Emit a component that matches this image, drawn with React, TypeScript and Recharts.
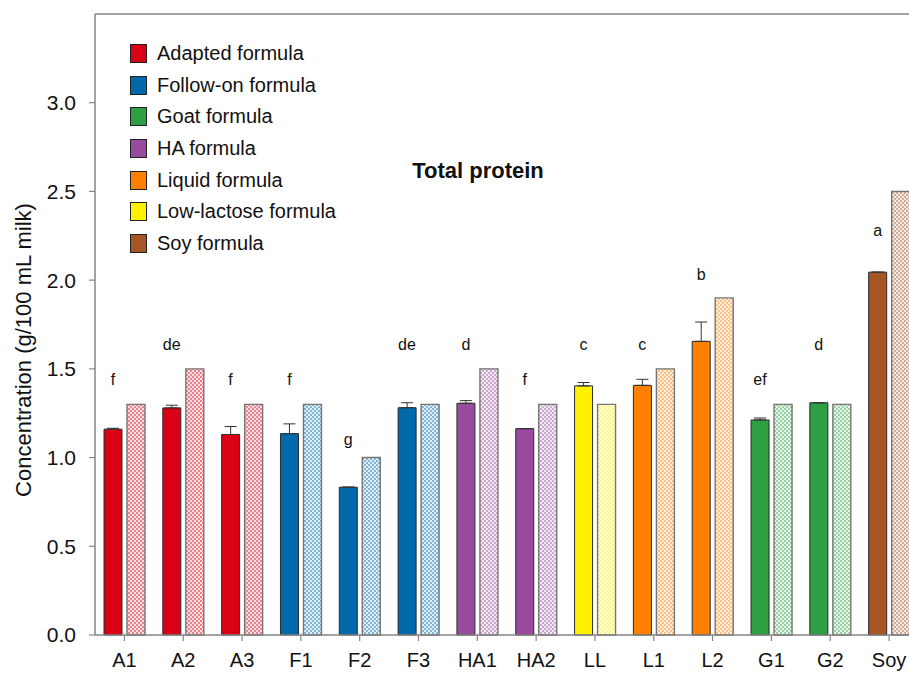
import React from 'react';
import {
  ComposedChart,
  Bar,
  Scatter,
  XAxis,
  YAxis,
  Cell,
  ErrorBar,
  ReferenceLine,
  Legend,
  Customized,
} from 'recharts';

// Products on the x axis
const categories = ['A1', 'A2', 'A3', 'F1', 'F2', 'F3', 'HA1', 'HA2', 'LL', 'L1', 'L2', 'G1', 'G2', 'Soy'];
// Measured total protein (g/100 mL milk) and its standard deviation
const measured = [1.16, 1.28, 1.13, 1.135, 0.833, 1.281, 1.306, 1.163, 1.404, 1.407, 1.655, 1.212, 1.309, 2.045];
const measuredSD = [0.005, 0.015, 0.045, 0.055, 0, 0.028, 0.015, 0, 0.019, 0.034, 0.109, 0.011, 0, 0];
// Value declared on the label
const declared = [1.3, 1.5, 1.3, 1.3, 1.0, 1.3, 1.5, 1.3, 1.3, 1.5, 1.9, 1.3, 1.3, 2.5];
// Significance letters and the level (g/100 mL) at which each one is written
const letters = ['f', 'de', 'f', 'f', 'g', 'de', 'd', 'f', 'c', 'c', 'b', 'ef', 'd', 'a'];
const letterLevel = [1.44, 1.64, 1.44, 1.44, 1.1, 1.64, 1.64, 1.44, 1.64, 1.64, 2.03, 1.44, 1.64, 2.28];
// Formula type of each product (index into formulaTypes)
const categoryType = [0, 0, 0, 1, 1, 1, 3, 3, 5, 4, 4, 2, 2, 6];
const formulaTypes = [
  'Adapted formula',
  'Follow-on formula',
  'Goat formula',
  'HA formula',
  'Liquid formula',
  'Low-lactose formula',
  'Soy formula',
];
const typeColors = ['#DA0016', '#0069AC', '#2E9F43', '#984B9C', '#FF7F00', '#FFF100', '#A65527'];
const yTicks = [0, 0.5, 1.0, 1.5, 2.0, 2.5, 3.0];

const rows = categories.map((name, i) => ({
  name,
  measured: measured[i],
  sdRange: [0, measuredSD[i]],
  declared: declared[i],
  letter: letters[i],
  letterLevel: letterLevel[i],
  type: categoryType[i],
}));

const FONT = '"Liberation Sans", Arial, Helvetica, sans-serif';
const AXIS = '#858585';
const BAR_SIZE = 18;
const BAR_GAP = 5;

const LegendBox = () => (
  <div style={{ fontFamily: FONT, fontSize: 20, color: '#111' }}>
    {formulaTypes.map((label, i) => (
      <div key={label} style={{ display: 'flex', alignItems: 'center', height: 31.6 }}>
        <div
          style={{
            width: 15,
            height: 17,
            background: typeColors[i],
            border: '1px solid #222',
            marginRight: 10,
          }}
        />
        <span style={{ whiteSpace: 'nowrap' }}>{label}</span>
      </div>
    ))}
  </div>
);

const Overlay = () => (
  <g fontFamily={FONT} fill="#111">
    <text x={478} y={170} textAnchor="middle" dominantBaseline="central" fontSize={22} fontWeight="bold">
      Total protein
    </text>
    <text
      x={23}
      y={350}
      transform="rotate(-90 23 350)"
      textAnchor="middle"
      dominantBaseline="central"
      fontSize={22}
    >
      Concentration (g/100 mL milk)
    </text>
  </g>
);

const LetterMark = (props: any) => {
  const { cx, cy, payload } = props;
  if (cx == null || cy == null) return null;
  return (
    <text
      x={cx - (BAR_SIZE + BAR_GAP) / 2}
      y={cy}
      textAnchor="middle"
      dominantBaseline="central"
      fontFamily={FONT}
      fontSize={16}
      fill="#111"
    >
      {payload.letter}
    </text>
  );
};

export default function App() {
  return (
    <div style={{ position: 'absolute', left: 0, top: 0, width: 909, height: 673, overflow: 'hidden', background: '#fff' }}>
      <ComposedChart
        width={930}
        height={673}
        data={rows}
        margin={{ top: 14, right: 11.5, bottom: 0, left: 0 }}
        barSize={BAR_SIZE}
        barGap={BAR_GAP}
      >
        <defs>
          {typeColors.map((c, i) => (
            <pattern key={i} id={`dots-${i}`} width={4} height={4} patternUnits="userSpaceOnUse">
              <rect width={4} height={4} fill="#fff" />
              <rect width={4} height={4} fill={c} fillOpacity={0.12} />
              <rect x={0} y={0} width={2} height={2} fill={c} fillOpacity={0.42} />
              <rect x={2} y={2} width={2} height={2} fill={c} fillOpacity={0.42} />
            </pattern>
          ))}
        </defs>
        <XAxis
          dataKey="name"
          height={38}
          tickSize={6}
          tickMargin={12}
          interval={0}
          axisLine={{ stroke: AXIS, strokeWidth: 1.5 }}
          tickLine={{ stroke: AXIS, strokeWidth: 1.2 }}
          tick={{ fill: '#111', fontSize: 20, fontFamily: FONT }}
        />
        <YAxis
          width={95}
          domain={[0, 3.5]}
          ticks={yTicks}
          tickSize={6}
          tickMargin={13}
          tickFormatter={(v: number) => v.toFixed(1)}
          axisLine={{ stroke: AXIS, strokeWidth: 1.5 }}
          tickLine={{ stroke: AXIS, strokeWidth: 1.2 }}
          tick={{ fill: '#111', fontSize: 21, fontFamily: FONT }}
        />
        <ReferenceLine y={3.5} stroke={AXIS} strokeWidth={1.5} />
        <Bar dataKey="measured" isAnimationActive={false} stroke="#2a2a2a" strokeWidth={1}>
          {rows.map((r, i) => (
            <Cell key={i} fill={typeColors[r.type]} />
          ))}
          <ErrorBar dataKey="sdRange" direction="y" width={6} stroke="#333" strokeWidth={1} />
        </Bar>
        <Bar dataKey="declared" isAnimationActive={false} stroke="#757575" strokeWidth={1.4}>
          {rows.map((r, i) => (
            <Cell key={i} fill={`url(#dots-${r.type})`} />
          ))}
        </Bar>
        <Scatter dataKey="letterLevel" isAnimationActive={false} shape={LetterMark} legendType="none" />
        <Legend
          layout="horizontal"
          align="center"
          verticalAlign="middle"
          content={LegendBox}
          wrapperStyle={{ left: 130, top: 38, width: 260, height: 230 }}
        />
        <Customized component={Overlay} />
      </ComposedChart>
    </div>
  );
}
